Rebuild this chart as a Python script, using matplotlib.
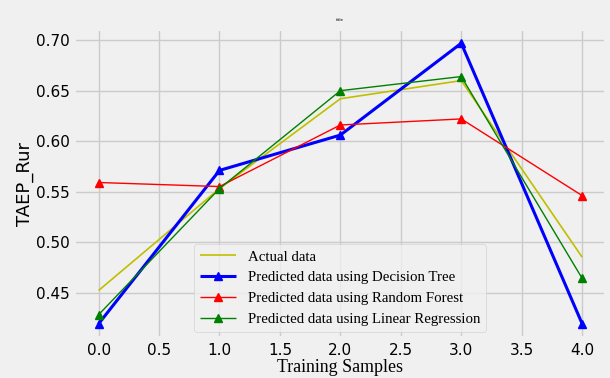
import matplotlib
matplotlib.use("Agg")
import matplotlib.pyplot as plt

plt.style.use("fivethirtyeight")

x = [0, 1, 2, 3, 4]
actual = [0.452, 0.553, 0.642, 0.660, 0.485]
dtree = [0.419, 0.571, 0.606, 0.697, 0.419]
rforest = [0.559, 0.555, 0.616, 0.622, 0.546]
linreg = [0.428, 0.553, 0.650, 0.664, 0.464]

fig = plt.figure(figsize=(6.1, 3.78), dpi=100)
ax = fig.add_axes([0.122, 0.106, 0.872, 0.817])

ax.plot(x, actual, color="y", lw=1.2, label="Actual data")
ax.plot(x, dtree, color="blue", lw=2.2, marker="^", ms=6, label="Predicted data using Decision Tree")
ax.plot(x, rforest, color="red", lw=1.0, marker="^", ms=6, label="Predicted data using Random Forest")
ax.plot(x, linreg, color="green", lw=1.0, marker="^", ms=6, label="Predicted data using Linear Regression")

ax.set_xlim(-0.2, 4.2)
ax.set_ylim(0.405, 0.711)
ax.set_xticks([0.0, 0.5, 1.0, 1.5, 2.0, 2.5, 3.0, 3.5, 4.0])
ax.set_yticks([0.45, 0.50, 0.55, 0.60, 0.65, 0.70])
ax.tick_params(labelsize=11)
ax.set_title("title", fontsize=3)
ax.set_xlabel("Training Samples", family="Liberation Serif", fontsize=12.9, labelpad=1)
ax.set_ylabel("TAEP_Rur", fontsize=13, labelpad=1)
ax.legend(loc="lower center", prop={"family": "Liberation Serif", "size": 10.7}, handlelength=2.4, borderaxespad=0.4)

fig.savefig("out.png", dpi=100)
